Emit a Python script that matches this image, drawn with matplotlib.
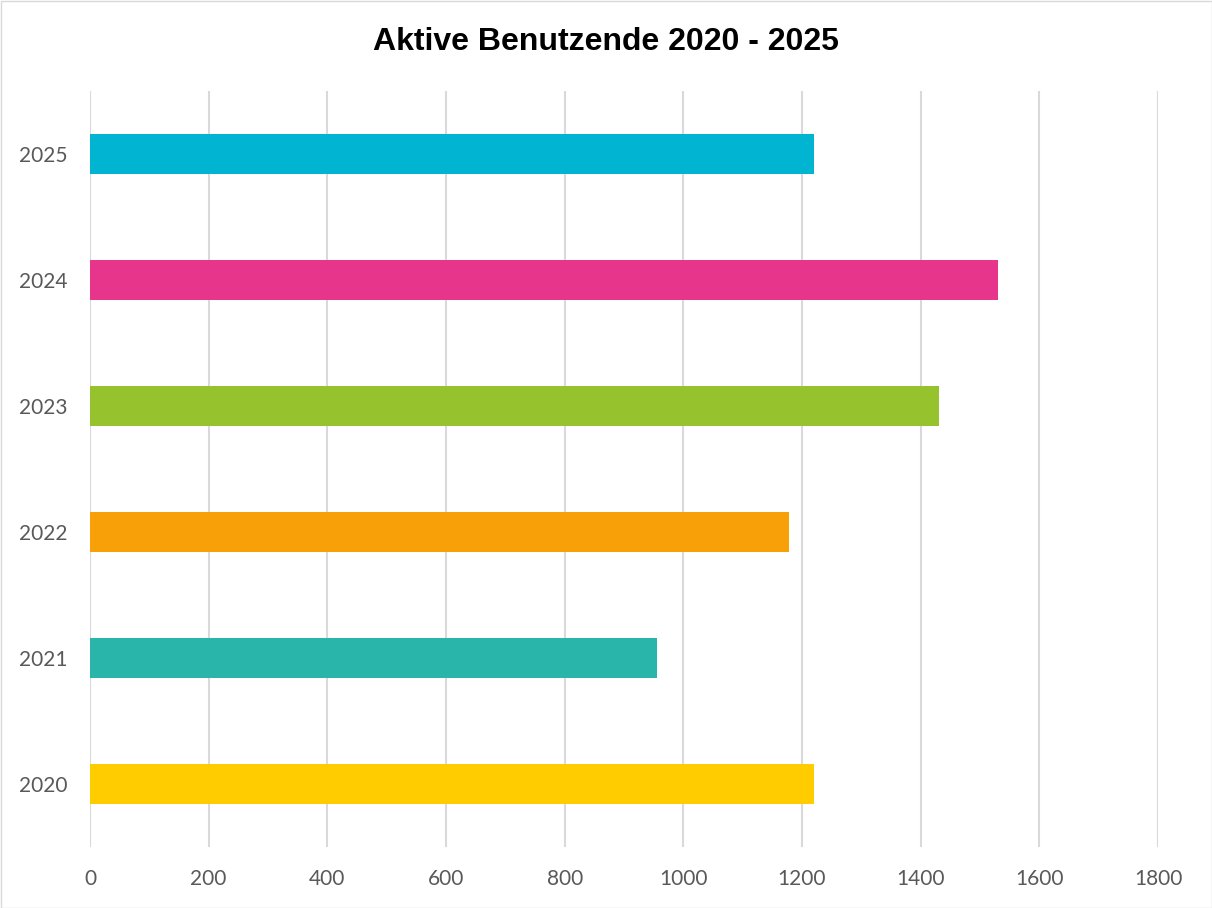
import matplotlib
matplotlib.use("Agg")
import matplotlib.pyplot as plt
from matplotlib.patches import Rectangle

years = ["2020", "2021", "2022", "2023", "2024", "2025"]
users = [1221, 955, 1178, 1431, 1530, 1220]
colors = ["#FFCC00", "#29B5AA", "#F7A008", "#96C22E", "#E6358A", "#00B4D2"]
xticks = [0, 200, 400, 600, 800, 1000, 1200, 1400, 1600, 1800]
title = "Aktive Benutzende 2020 - 2025"

W, H = 1212, 908
fig = plt.figure(figsize=(W / 100, H / 100), dpi=100)
fig.patch.set_facecolor("white")
ax = fig.add_axes([90 / W, 1 - 847 / H, (1158 - 90) / W, (847 - 91) / H])

ypos = list(range(len(years)))
ax.barh(ypos, users, height=0.317, color=colors, zorder=3)
ax.set_xlim(0, 1800)
ax.set_ylim(-0.5, len(years) - 0.5)
ax.set_xticks(xticks)
ax.set_xticklabels([str(t) for t in xticks])
ax.set_yticks(ypos)
ax.set_yticklabels(years)
ax.grid(axis="x", color="#D9D9D9", linewidth=1.5, zorder=0)
ax.grid(axis="y", visible=False)
for s in ax.spines.values():
    s.set_visible(False)
ax.tick_params(axis="both", length=0, labelsize=15, labelcolor="#595959")
ax.tick_params(axis="x", pad=16)
ax.tick_params(axis="y", pad=16)
for lab in ax.get_xticklabels() + ax.get_yticklabels():
    lab.set_fontfamily("Lato")

fig.text(0.5, 1 - 42 / H, title, ha="center", va="center", fontsize=23,
         fontweight="bold", family="Liberation Sans", color="black")

fig.patches.append(Rectangle((0.5 / W, 0.5 / H), 1 - 1 / W, 1 - 1 / H,
                             transform=fig.transFigure, fill=False,
                             edgecolor="#D9D9D9", linewidth=1))

fig.savefig("out.png", dpi=100)
